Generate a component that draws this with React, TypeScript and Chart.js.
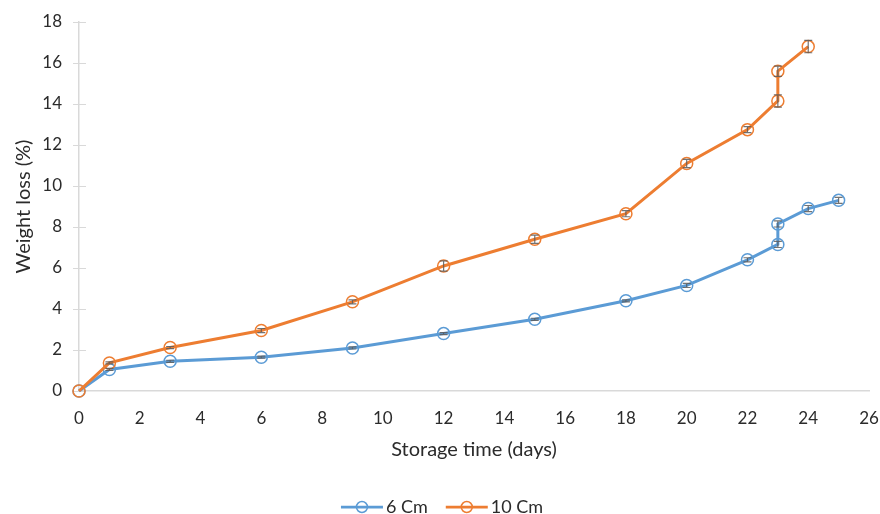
import React, { useEffect, useRef } from "react";
import { Chart, registerables } from "chart.js";

Chart.register(...registerables);

const days6 = [0, 1, 3, 6, 9, 12, 15, 18, 20, 22, 23, 23, 24, 25];
const loss6 = [0, 1.05, 1.45, 1.65, 2.1, 2.8, 3.5, 4.4, 5.15, 6.4, 7.15, 8.15, 8.9, 9.3];
const err6 = [0, 0.05, 0.05, 0.05, 0.05, 0.05, 0.05, 0.05, 0.1, 0.1, 0.15, 0.15, 0.15, 0.15];

const days10 = [0, 1, 3, 6, 9, 12, 15, 18, 20, 22, 23, 23, 24];
const loss10 = [0, 1.37, 2.12, 2.95, 4.35, 6.1, 7.4, 8.65, 11.1, 12.75, 14.15, 15.6, 16.8];
const err10 = [0, 0.05, 0.05, 0.1, 0.1, 0.25, 0.2, 0.15, 0.2, 0.15, 0.3, 0.25, 0.3];

const seriesNames = ["6 Cm", "10 Cm"];
const seriesColors = ["#5B9BD5", "#ED7D31"];
const xTitle = "Storage time (days)";
const yTitle = "Weight loss (%)";
const FONT = "Lato, 'Open Sans', sans-serif";
const TEXT = "#2b2b2b";

const errors = [err6, err10];

const errorBarPlugin = {
  id: "errorBars",
  afterDatasetsDraw(chart: any) {
    const ctx = chart.ctx;
    const y = chart.scales.y;
    ctx.save();
    ctx.strokeStyle = "rgba(90,90,90,0.85)";
    ctx.lineWidth = 1.2;
    chart.data.datasets.forEach((ds: any, i: number) => {
      const meta = chart.getDatasetMeta(i);
      meta.data.forEach((pt: any, j: number) => {
        const e = errors[i][j];
        if (!e) return;
        const v = ds.data[j].y;
        const px = pt.x;
        const top = y.getPixelForValue(v + e);
        const bot = y.getPixelForValue(v - e);
        ctx.beginPath();
        ctx.moveTo(px, top);
        ctx.lineTo(px, bot);
        ctx.moveTo(px - 4, top);
        ctx.lineTo(px + 4, top);
        ctx.moveTo(px - 4, bot);
        ctx.lineTo(px + 4, bot);
        ctx.stroke();
      });
    });
    ctx.restore();
  },
};

const yTicksPlugin = {
  id: "yCrossTicks",
  beforeDatasetsDraw(chart: any) {
    const ctx = chart.ctx;
    const y = chart.scales.y;
    const x0 = chart.chartArea.left;
    ctx.save();
    ctx.strokeStyle = "#D9D9D9";
    ctx.lineWidth = 1;
    y.ticks.forEach((t: any) => {
      const py = Math.round(y.getPixelForValue(t.value)) + 0.5;
      ctx.beginPath();
      ctx.moveTo(x0 - 6, py);
      ctx.lineTo(x0 + 7, py);
      ctx.stroke();
    });
    ctx.restore();
  },
};

const legendPlugin = {
  id: "customLegend",
  afterDraw(chart: any) {
    const ctx = chart.ctx;
    ctx.save();
    ctx.font = `18px ${FONT}`;
    ctx.textBaseline = "middle";
    const lineLen = 42;
    const gap = 3;
    const spacing = 18;
    const widths = seriesNames.map((n) => lineLen + gap + ctx.measureText(n).width);
    const total = widths.reduce((a, b) => a + b, 0) + spacing * (seriesNames.length - 1);
    let x = chart.width / 2 - total / 2 + 2;
    const cy = 507;
    seriesNames.forEach((n, i) => {
      ctx.strokeStyle = seriesColors[i];
      ctx.lineWidth = 2.75;
      ctx.beginPath();
      ctx.moveTo(x, cy);
      ctx.lineTo(x + lineLen, cy);
      ctx.stroke();
      ctx.lineWidth = 1.5;
      ctx.beginPath();
      ctx.arc(x + lineLen / 2, cy, 5.5, 0, Math.PI * 2);
      ctx.stroke();
      ctx.fillStyle = TEXT;
      ctx.fillText(n, x + lineLen + gap, cy);
      x += widths[i] + spacing;
    });
    ctx.restore();
  },
};

const zeroPad = (s: any) => {
  s.paddingLeft = 0;
  s.paddingRight = 0;
  s.paddingTop = 0;
  s.paddingBottom = 0;
};

export default function App() {
  const ref = useRef<HTMLCanvasElement>(null);
  useEffect(() => {
    if (!ref.current) return;
    const mk = (xs: number[], ys: number[]) => xs.map((x, i) => ({ x, y: ys[i] }));
    const ds = (i: number, data: any[], order: number) => ({
      label: seriesNames[i],
      data,
      order,
      showLine: true,
      clip: false,
      borderColor: seriesColors[i],
      backgroundColor: "rgba(0,0,0,0)",
      borderWidth: 3,
      pointRadius: 6,
      pointBorderWidth: 1.5,
      pointBorderColor: seriesColors[i],
      pointBackgroundColor: "rgba(0,0,0,0)",
    });
    const chart = new Chart(ref.current, {
      type: "scatter",
      data: {
        datasets: [ds(0, mk(days6, loss6), 1), ds(1, mk(days10, loss10), 0)],
      },
      options: {
        responsive: false,
        animation: false,
        layout: { padding: { top: 22, right: 11, bottom: 52, left: 0 } },
        plugins: {
          legend: { display: false },
          tooltip: { enabled: false },
        },
        scales: {
          x: {
            type: "linear",
            min: 0,
            max: 26,
            afterFit: (s: any) => {
              s.height = 71;
              zeroPad(s);
            },
            ticks: {
              stepSize: 2,
              padding: 17,
              color: TEXT,
              font: { family: FONT, size: 17 },
            },
            grid: { display: false, drawTicks: false },
            border: { display: true, color: "#D9D9D9", width: 1.5 },
            title: {
              display: true,
              text: xTitle,
              color: TEXT,
              font: { family: FONT, size: 20 },
              padding: { top: 0, bottom: 0 },
            },
          },
          y: {
            min: 0,
            max: 18,
            afterFit: (s: any) => {
              s.width = 79;
              zeroPad(s);
            },
            ticks: {
              stepSize: 2,
              padding: 17,
              color: TEXT,
              font: { family: FONT, size: 17 },
            },
            grid: { display: false, drawTicks: false },
            border: { display: true, color: "#D9D9D9", width: 1.5 },
            title: {
              display: true,
              text: yTitle,
              color: TEXT,
              font: { family: FONT, size: 20 },
              padding: { top: 12, bottom: 0 },
            },
          },
        },
      },
      plugins: [yTicksPlugin, errorBarPlugin, legendPlugin],
    } as any);
    return () => chart.destroy();
  }, []);
  return (
    <div style={{ position: "fixed", left: 0, top: 0, width: 880, height: 514, background: "#fff" }}>
      <canvas ref={ref} width={880} height={514} />
    </div>
  );
}
